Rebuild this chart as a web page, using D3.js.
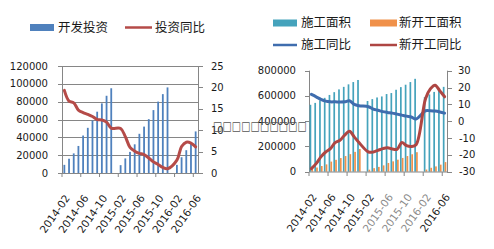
<!DOCTYPE html>
<html><head><meta charset="utf-8">
<script src="https://cdn.jsdelivr.net/npm/d3@7/dist/d3.min.js"></script>
<style>
html,body{margin:0;padding:0;background:#fff;}
svg{display:block;}
text{font-family:"DejaVu Sans",Verdana,sans-serif;}
.cjk{font-family:"Noto Sans CJK SC","Noto Sans",sans-serif;}
</style></head>
<body>
<svg id="c" width="494" height="249"></svg>
<script>
// ---- data ----
const categories = ["2014-02","2014-03","2014-04","2014-05","2014-06","2014-07","2014-08","2014-09","2014-10","2014-11","2014-12",
  "2015-01","2015-02","2015-03","2015-04","2015-05","2015-06","2015-07","2015-08","2015-09","2015-10","2015-11","2015-12",
  "2016-01","2016-02","2016-03","2016-04","2016-05","2016-06"];
const xTickLabels = ["2014-02","2014-06","2014-10","2015-02","2015-06","2015-10","2016-02","2016-06"];

const investment = [9138,16000,21990,30330,42020,50660,58880,68750,78060,86610,95040,
  null,8790,16360,23670,32170,43960,52040,60380,70540,80070,88450,95980,
  null,9115,17680,25580,34470,46630];
const investmentYoY = [19.3,16.8,16.4,14.7,14.1,13.7,13.2,12.5,12.4,11.9,10.5,
  null,10.4,8.5,6.0,5.1,4.6,4.3,3.5,2.6,2.0,1.3,1.0,
  null,3.0,6.2,7.2,7.0,6.1];

const constructionArea = [530000,545000,565000,585000,608000,630000,652000,672000,692000,710000,726500,
  null,560000,575000,588000,596000,615000,623000,649000,670000,689000,710000,735700,
  null,590000,612000,632000,652000,672000];
const newStartArea = [20000,33000,45000,58000,80000,94000,108000,124000,139000,157000,179600,
  null,16000,28000,38000,50000,69000,82000,95000,109000,124000,138000,154500,
  null,17000,31000,42000,56000,76000];
const constructionYoY = [15.9,14.5,13.0,11.9,11.5,11.5,11.4,11.5,12.1,10.0,9.2,
  null,8.6,7.2,6.5,5.7,5.2,4.8,4.2,3.6,3.0,2.5,1.3,
  null,6.2,6.2,6.0,5.5,4.8];
const newStartYoY = [-28.2,-25.2,-21.2,-18.3,-16.3,-12.7,-11.3,-8.3,-6.0,-9.3,-12.7,
  null,-18.3,-18.3,-17.3,-16.3,-15.8,-16.5,-16.7,-12.7,-14.5,-15.0,-14.0,
  null,13.5,19.2,21.4,18.0,14.5];

const leftTicksL = [0,20000,40000,60000,80000,100000,120000];
const leftTicksR = [0,5,10,15,20,25];
const rightTicksL = [0,200000,400000,600000,800000];
const rightTicksR = [-30,-20,-10,0,10,20,30];

// ---- drawing ----
const svg = d3.select("#c");
const axisCol = "#868686", textCol = "#1a1a1a";

function xLabels(g, x, y0, grayIdx){
  const bw = x.bandwidth();
  for(let i=0;i<categories.length;i+=4){
    const xx = x(categories[i]);
    g.append("line").attr("x1",xx).attr("x2",xx).attr("y1",y0).attr("y2",y0+4)
      .attr("stroke",axisCol).attr("stroke-width",1);
  }
  xTickLabels.forEach((c,i)=>{
    const cx = x(c)+bw/2;
    g.append("text").attr("transform",`translate(${cx+3},${y0+23}) rotate(-55)`)
      .attr("text-anchor","end").attr("dy","0.35em").attr("font-size",10.5)
      .attr("fill", grayIdx && grayIdx.includes(i) ? "#8a8a8a" : textCol).text(c);
  });
}

function smoothLine(g, x, y, vals, color){
  const pts = categories.map((c,i)=>({c,v:vals[i]})).filter(d=>d.v!==null);
  const line = d3.line().x(d=>x(d.c)+x.bandwidth()/2).y(d=>y(d.v)).curve(d3.curveCatmullRom.alpha(0.5));
  g.append("path").attr("d",line(pts)).attr("fill","none").attr("stroke",color)
    .attr("stroke-width",3).attr("stroke-linejoin","round").attr("stroke-linecap","round");
}

// ===== Left chart =====
{
  const g = svg.append("g");
  const x = d3.scaleBand().domain(categories).range([62,198]).padding(0);
  const yL = d3.scaleLinear().domain([0,120000]).range([173,66]);
  const yR = d3.scaleLinear().domain([0,25]).range([173,66]);

  g.selectAll(".grid").data(leftTicksL).join("line")
    .attr("x1",58).attr("x2",198).attr("y1",d=>Math.round(yL(d))+0.5).attr("y2",d=>Math.round(yL(d))+0.5)
    .attr("stroke",axisCol).attr("stroke-width",1);
  g.selectAll(".ltl").data(leftTicksL).join("text")
    .attr("x",48).attr("y",d=>yL(d)).attr("dy","0.35em").attr("text-anchor","end")
    .attr("font-size",10).attr("fill",textCol).text(d=>d);
  g.append("line").attr("x1",198.5).attr("x2",198.5).attr("y1",66).attr("y2",173).attr("stroke",axisCol);
  g.append("line").attr("x1",62.5).attr("x2",62.5).attr("y1",66).attr("y2",173).attr("stroke",axisCol);
  g.selectAll(".rt").data(leftTicksR).join("line")
    .attr("x1",198).attr("x2",203).attr("y1",d=>Math.round(yR(d))+0.5).attr("y2",d=>Math.round(yR(d))+0.5)
    .attr("stroke",axisCol);
  g.selectAll(".rtl").data(leftTicksR).join("text")
    .attr("x",211).attr("y",d=>yR(d)).attr("dy","0.35em").attr("text-anchor","start")
    .attr("font-size",10).attr("fill",textCol).text(d=>d);

  g.selectAll(".bar").data(categories.map((c,i)=>({c,v:investment[i]})).filter(d=>d.v!==null)).join("rect")
    .attr("x",d=>x(d.c)+x.bandwidth()/2-0.9).attr("width",1.8)
    .attr("y",d=>yL(d.v)).attr("height",d=>yL(0)-yL(d.v)).attr("fill","#4F81BD");

  smoothLine(g,x,yR,investmentYoY,"#B54B48");
  xLabels(g,x,173,[]);

  g.append("rect").attr("x",30).attr("y",24).attr("width",24).attr("height",7).attr("fill","#4F81BD");
  g.append("text").attr("class","cjk").attr("x",58).attr("y",27.5).attr("dy","0.35em").attr("font-size",12.5).attr("fill",textCol).text("开发投资");
  g.append("line").attr("x1",125).attr("x2",152).attr("y1",27.5).attr("y2",27.5).attr("stroke","#B54B48").attr("stroke-width",2.5);
  g.append("text").attr("class","cjk").attr("x",155).attr("y",27.5).attr("dy","0.35em").attr("font-size",12.5).attr("fill",textCol).text("投资同比");
}

// ===== Right chart =====
{
  const g = svg.append("g");
  const x = d3.scaleBand().domain(categories).range([309,447]).padding(0);
  const yL = d3.scaleLinear().domain([0,800000]).range([171.7,70.7]);
  const yR = d3.scaleLinear().domain([-30,30]).range([171.7,70.7]);

  g.append("line").attr("x1",309.5).attr("x2",309.5).attr("y1",70.7).attr("y2",172).attr("stroke",axisCol);
  g.append("line").attr("x1",447.5).attr("x2",447.5).attr("y1",70.7).attr("y2",172).attr("stroke",axisCol);
  g.selectAll(".lt").data(rightTicksL).join("line")
    .attr("x1",305).attr("x2",309).attr("y1",d=>Math.round(yL(d))+0.5).attr("y2",d=>Math.round(yL(d))+0.5).attr("stroke",axisCol);
  g.selectAll(".ltl").data(rightTicksL).join("text")
    .attr("x",296).attr("y",d=>yL(d)).attr("dy","0.35em").attr("text-anchor","end")
    .attr("font-size",10).attr("fill",textCol).text(d=>d);
  g.selectAll(".rt").data(rightTicksR).join("line")
    .attr("x1",447).attr("x2",452).attr("y1",d=>Math.round(yR(d))+0.5).attr("y2",d=>Math.round(yR(d))+0.5).attr("stroke",axisCol);
  g.selectAll(".rtl").data(rightTicksR).join("text")
    .attr("x",d=>d<0?459:458).attr("y",d=>yR(d)).attr("dy","0.35em").attr("text-anchor","start")
    .attr("font-size",10).attr("fill",textCol).text(d=>d<0?"-"+Math.abs(d):d);

  const bw = x.bandwidth();
  g.selectAll(".b1").data(categories.map((c,i)=>({c,v:constructionArea[i]})).filter(d=>d.v!==null)).join("rect")
    .attr("x",d=>x(d.c)+bw/2-1.8).attr("width",1.7)
    .attr("y",d=>yL(d.v)).attr("height",d=>yL(0)-yL(d.v)).attr("fill","#45A3BC");
  g.selectAll(".b2").data(categories.map((c,i)=>({c,v:newStartArea[i]})).filter(d=>d.v!==null)).join("rect")
    .attr("x",d=>x(d.c)+bw/2).attr("width",1.7)
    .attr("y",d=>yL(d.v)).attr("height",d=>yL(0)-yL(d.v)).attr("fill","#F0914A");

  g.append("line").attr("x1",309).attr("x2",447).attr("y1",172).attr("y2",172).attr("stroke",axisCol);

  smoothLine(g,x,yR,constructionYoY,"#3F6DAE");
  smoothLine(g,x,yR,newStartYoY,"#AE4643");
  xLabels(g,x,172,[4,5,6]);

  g.append("rect").attr("x",273).attr("y",19.5).attr("width",24).attr("height",7).attr("fill","#45A3BC");
  g.append("text").attr("class","cjk").attr("x",301).attr("y",23).attr("dy","0.35em").attr("font-size",12.5).attr("fill",textCol).text("施工面积");
  g.append("rect").attr("x",370).attr("y",19.5).attr("width",27).attr("height",7).attr("fill","#F0914A");
  g.append("text").attr("class","cjk").attr("x",399).attr("y",23).attr("dy","0.35em").attr("font-size",12.5).attr("fill",textCol).text("新开工面积");
  g.append("line").attr("x1",273).attr("x2",297).attr("y1",45).attr("y2",45).attr("stroke","#3F6DAE").attr("stroke-width",2.5);
  g.append("text").attr("class","cjk").attr("x",301).attr("y",45).attr("dy","0.35em").attr("font-size",12.5).attr("fill",textCol).text("施工同比");
  g.append("line").attr("x1",370).attr("x2",397).attr("y1",45).attr("y2",45).attr("stroke","#AE4643").attr("stroke-width",2.5);
  g.append("text").attr("class","cjk").attr("x",399).attr("y",45).attr("dy","0.35em").attr("font-size",12.5).attr("fill",textCol).text("新开工同比");
}

svg.append("line").attr("x1",62).attr("x2",198).attr("y1",173.5).attr("y2",173.5).attr("stroke",axisCol);

// watermark (missing-glyph boxes)
svg.append("text").attr("x",213).attr("y",126).attr("dy","0.35em").attr("font-size",12)
  .attr("fill","#555").attr("textLength",94).attr("lengthAdjust","spacingAndGlyphs").text("□□□□□□□□□□");
</script>
</body></html>
